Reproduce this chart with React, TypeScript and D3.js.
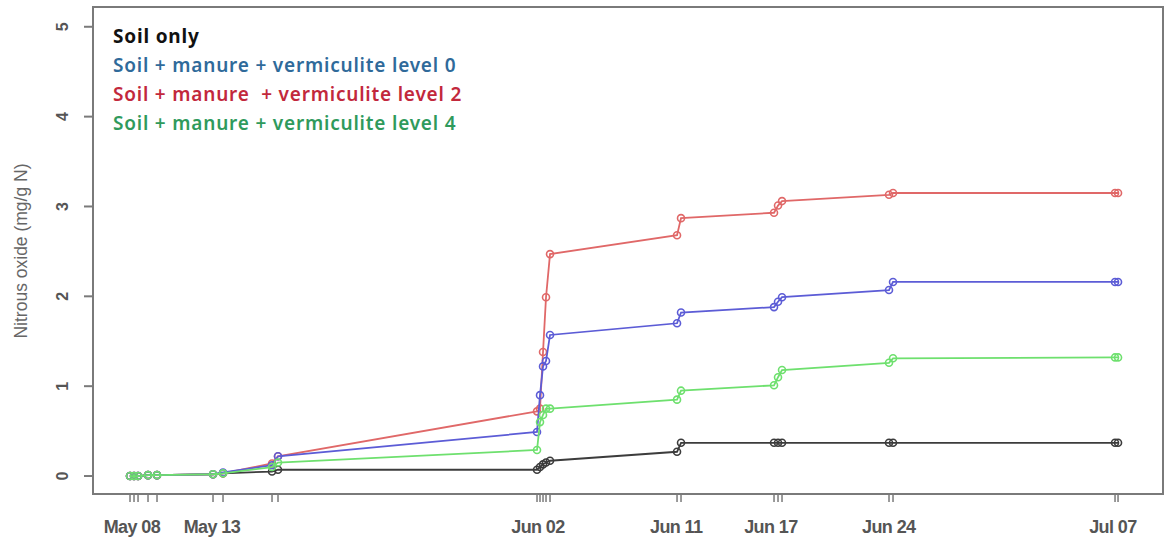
import React from "react";
import * as d3 from "d3";

// Measurement times
const times: string[] = [
  "2014-05-08T13:13", "2014-05-08T19:05", "2014-05-09T01:00", "2014-05-09T15:38", "2014-05-10T04:50",
  "2014-05-13T15:03", "2014-05-14T05:44",
  "2014-05-17T05:40", "2014-05-17T14:27",
  "2014-06-02T10:38", "2014-06-02T15:02", "2014-06-02T19:27", "2014-06-02T23:51", "2014-06-03T05:44",
  "2014-06-11T00:10", "2014-06-11T06:01",
  "2014-06-16T22:32", "2014-06-17T04:24", "2014-06-17T10:16",
  "2014-06-23T23:19", "2014-06-24T05:12",
  "2014-07-07T19:05", "2014-07-07T23:30",
];

const soilOnly: number[] = [0, 0, 0, 0.01, 0.01, 0.02, 0.03, 0.05, 0.07, 0.07, 0.1, 0.13, 0.15, 0.17, 0.27, 0.37, 0.37, 0.37, 0.37, 0.37, 0.37, 0.37, 0.37];
const level0: number[] = [0, 0, 0, 0.01, 0.01, 0.02, 0.04, 0.12, 0.22, 0.49, 0.9, 1.22, 1.28, 1.57, 1.7, 1.82, 1.88, 1.94, 1.99, 2.07, 2.16, 2.16, 2.16];
const level2: number[] = [0, 0, 0, 0.01, 0.01, 0.02, 0.03, 0.14, 0.22, 0.72, 0.75, 1.38, 1.99, 2.47, 2.68, 2.87, 2.93, 3.01, 3.06, 3.13, 3.15, 3.15, 3.15];
const level4: number[] = [0, 0, 0, 0.01, 0.01, 0.02, 0.03, 0.1, 0.15, 0.29, 0.6, 0.68, 0.75, 0.75, 0.85, 0.95, 1.01, 1.1, 1.18, 1.26, 1.31, 1.32, 1.32];

const seriesNames: string[] = [
  "Soil only",
  "Soil + manure + vermiculite level 0",
  "Soil + manure  + vermiculite level 2",
  "Soil + manure + vermiculite level 4",
];

const xTickDates: string[] = [
  "2014-05-08T16:00", "2014-05-13T13:30", "2014-06-02T12:00", "2014-06-10T23:00",
  "2014-06-16T18:00", "2014-06-23T23:00", "2014-07-07T16:00",
];
const xTickLabels: string[] = ["May 08", "May 13", "Jun 02", "Jun 11", "Jun 17", "Jun 24", "Jul 07"];
const yTicks: number[] = [0, 1, 2, 3, 4, 5];

const lineColors = ["#3c3c3c", "#5c5cd6", "#e06868", "#6ee06e"];
const legendColors = ["#111111", "#2f6a9a", "#c2283c", "#2f9a5c"];

export default function App() {
  const W = 1171, H = 540;
  const left = 93, right = 1163, top = 7, bottom = 494;

  const parsed = times.map((t) => new Date(t));
  const x = d3.scaleTime()
    .domain([new Date("2014-05-06T06:53"), new Date("2014-07-10T17:30")])
    .range([left, right]);
  const y = d3.scaleLinear().domain([-0.2, 5.22]).range([bottom, top]);

  const allSeries = [soilOnly, level0, level2, level4];
  const drawOrder = [0, 2, 1, 3];

  const line = d3.line<number>()
    .x((_, i) => x(parsed[i]))
    .y((d) => y(d));

  const axisColor = "#7a7a7a";
  const textColor = "#555";

  return (
    <svg width={W} height={H} style={{ position: "absolute", left: 0, top: 0, background: "#fff" }}>
      <rect x={0} y={0} width={W} height={H} fill="#fff" />
      {/* plot box */}
      <rect x={left} y={top} width={right - left} height={bottom - top} fill="none" stroke={axisColor} strokeWidth={2} />

      {/* y axis ticks */}
      {yTicks.map((t) => (
        <g key={"yt" + t}>
          <line x1={left - 9} x2={left} y1={y(t)} y2={y(t)} stroke={axisColor} strokeWidth={2} />
          <text
            x={63}
            y={y(t)}
            transform={`rotate(-90, 63, ${y(t)})`}
            textAnchor="middle"
            dominantBaseline="central"
            fontFamily="Liberation Sans, Arial, sans-serif"
            fontSize={16}
            fontWeight={600}
            fill={textColor}
          >
            {t}
          </text>
        </g>
      ))}
      <text
        x={21}
        y={251}
        transform="rotate(-90, 21, 251)"
        textAnchor="middle"
        dominantBaseline="central"
        fontFamily="Liberation Sans, Arial, sans-serif"
        fontSize={17.5}
        fill="#666"
      >
        Nitrous oxide (mg/g N)
      </text>

      {/* x minor ticks at each measurement */}
      {parsed.map((d, i) => (
        <line key={"xm" + i} x1={x(d)} x2={x(d)} y1={bottom} y2={bottom + 8} stroke={axisColor} strokeWidth={1.5} />
      ))}
      {xTickDates.map((d, i) => (
        <text
          key={"xl" + i}
          x={x(new Date(d))}
          y={527}
          textAnchor="middle"
          dominantBaseline="central"
          fontFamily="Liberation Sans, Arial, sans-serif"
          fontSize={18}
          fontWeight={600}
          letterSpacing={-0.6}
          fill={textColor}
        >
          {xTickLabels[i]}
        </text>
      ))}

      {/* series */}
      {drawOrder.map((si) => (
        <g key={"s" + si}>
          <path d={line(allSeries[si]) || ""} fill="none" stroke={lineColors[si]} strokeWidth={1.8} />
          {allSeries[si].map((v, i) => (
            <circle key={i} cx={x(parsed[i])} cy={y(v)} r={3.5} fill="none" stroke={lineColors[si]} strokeWidth={1.6} />
          ))}
        </g>
      ))}

      {/* legend */}
      {seriesNames.map((n, i) => (
        <text
          key={"lg" + i}
          x={113}
          y={43 + i * 29}
          fontFamily="Noto Sans, sans-serif"
          fontSize={19}
          fontWeight={i === 0 ? 700 : 600}
          letterSpacing={0.8}
          fill={legendColors[i]}
          style={{ whiteSpace: "pre" }}
        >
          {n}
        </text>
      ))}
    </svg>
  );
}
